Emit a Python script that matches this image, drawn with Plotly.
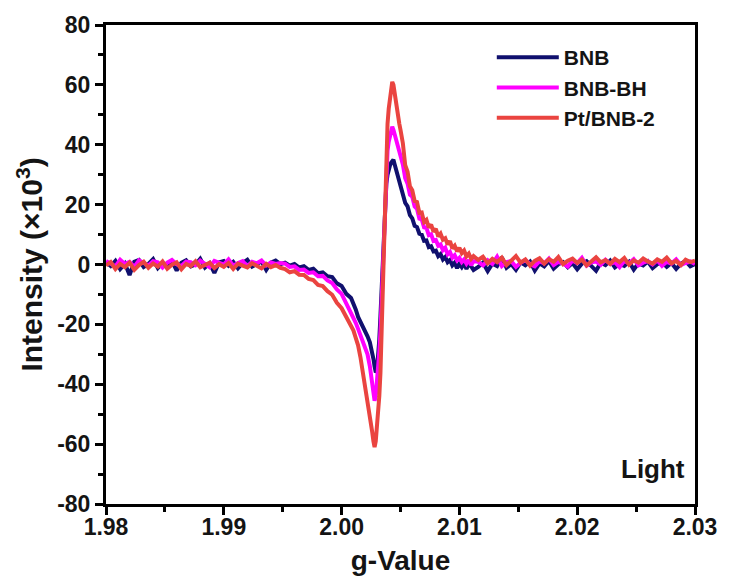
import plotly.graph_objects as go

# g-values (shared abscissa)
G = [1.9800, 1.9804, 1.9808, 1.9812, 1.9816, 1.9820, 1.9824, 1.9828, 1.9832, 1.9836,
     1.9840, 1.9844, 1.9848, 1.9852, 1.9856, 1.9860, 1.9864, 1.9868, 1.9872, 1.9876,
     1.9880, 1.9884, 1.9888, 1.9892, 1.9896, 1.9900, 1.9904, 1.9908, 1.9912, 1.9916,
     1.9920, 1.9924, 1.9928, 1.9932, 1.9936, 1.9940, 1.9944, 1.9948,
     1.9952, 1.9956, 1.9960, 1.9964, 1.9968, 1.9972, 1.9976, 1.9980, 1.9984, 1.9988,
     1.9992, 1.9996, 2.0000, 2.0004, 2.0008,
     2.0010, 2.0012, 2.0014, 2.0016, 2.0018, 2.0020, 2.0022, 2.0024,
     2.0025, 2.0026, 2.0027, 2.0028, 2.0029, 2.0030, 2.0031, 2.0032, 2.0033, 2.0034,
     2.0035, 2.0036, 2.0037, 2.0038, 2.0039, 2.0040, 2.0041, 2.0042, 2.0043, 2.0044,
     2.0045, 2.0046, 2.0047, 2.0048, 2.0049, 2.0050,
     2.0052, 2.0054, 2.0056, 2.0058, 2.0060, 2.0062, 2.0064, 2.0066, 2.0068, 2.0070,
     2.0072, 2.0074, 2.0076, 2.0078, 2.0080, 2.0082, 2.0084, 2.0086, 2.0088, 2.0090,
     2.0092, 2.0094, 2.0096, 2.0098, 2.0100, 2.0102, 2.0104, 2.0106, 2.0108, 2.0110, 2.0112,
     2.0116, 2.0120, 2.0124, 2.0128, 2.0132, 2.0136, 2.0140, 2.0144, 2.0148, 2.0152,
     2.0156, 2.0160, 2.0164, 2.0168, 2.0172, 2.0176, 2.0180, 2.0184, 2.0188, 2.0192,
     2.0196, 2.0200, 2.0204, 2.0208, 2.0212, 2.0216, 2.0220, 2.0224, 2.0228, 2.0232,
     2.0236, 2.0240, 2.0244, 2.0248, 2.0252, 2.0256, 2.0260, 2.0264, 2.0268, 2.0272,
     2.0276, 2.0280, 2.0284, 2.0288, 2.0292, 2.0296, 2.0300]

# Intensity (x10^3)
BNB = [0.8, -0.5, 1.2, -1.5, 0.3, -3.5, 0.9, 1.5, -0.8, 0.2, 1.8, -1.2, 0.5, -0.3, 1.1, -2.0, 0.6, 1.4, -0.6, 0.0,
       1.9, -1.0, 0.4, -2.8, 0.7, 1.2, -0.4, 0.9, -1.3, 0.5, 1.6, -0.7, 0.2, 1.0, -1.8, 0.6, 1.3, 0.1,
       0.6, -0.4, 0.2, -1.0, -0.6, -1.8, -1.4, -2.9, -2.6, -3.9, -4.2, -6.3, -7.2, -9.8, -11.2,
       -13, -15, -17.5, -19, -21, -22.5, -24, -26,
       -27.5, -29, -31.5, -34, -36, -35.5, -31, -25, -17, -7, 4, 14, 22, 27, 30, 32, 33, 34, 34.5, 35,
       33.5, 32, 30.5, 29, 28, 27,
       24.3, 20.6, 19.4, 16.5, 15.4, 12.9, 12.5, 10.3, 10.0, 7.9, 8.0, 5.8, 6.1, 4.4, 4.6, 2.8, 3.5, 1.7, 2.5, 0.8,
       1.5, -0.3, 0.6, -1.2, 0.2, -0.9, 0.4, -1.5, 0.1, -0.6, -1.8,
       -0.8, 0.6, -2.2, 0.3, -0.5, 2.4, -1.1, 0.2, -1.8, 0.7, -0.3, 1.0, -2.0, 0.4, -0.6, 1.2, -1.4, 0.1, 0.8, -0.9,
       0.5, -1.6, 0.3, 1.1, -0.7, -2.1, 0.6, -0.2, 1.3, -1.0, 0.2, -0.5, 0.9, -1.7, 0.4, -0.3, 1.0, -1.2, 0.1, 0.7,
       -0.8, 0.5, -1.5, 0.3, 1.1, -0.6, 0.2]

BNB_BH = [1.2, 0.4, -0.6, 1.6, 0.2, 0.9, -0.8, 1.4, 0.5, -0.3, 1.1, 0.7, -1.0, 0.6, 1.5, 0.1, -0.5, 1.0, 0.8, -0.2,
          1.3, 0.3, -0.9, 1.2, 0.6, 0.0, 1.7, -0.4, 0.5, 1.1, -0.6, 0.9, 0.4, 1.3, -0.3, 0.7, 0.2, 0.5,
          0.3, -0.8, -0.6, -1.8, -1.7, -2.8, -2.6, -3.9, -3.8, -5.3, -6.2, -8.3, -9.8, -13.0, -15.8,
          -18, -19.5, -21.5, -23.5, -25.5, -27.5, -30, -34,
          -37, -40, -43.5, -45.5, -44, -40, -35, -29, -22, -11, 1, 13, 24, 32, 38, 41, 43, 45, 46, 45,
          43.5, 42, 40.5, 39, 38, 36.5,
          33.4, 28.8, 27.0, 23.3, 22.6, 19.4, 18.6, 15.3, 15.1, 12.4, 12.2, 9.8, 10.1, 7.9, 8.2, 6.3, 6.7, 4.8, 5.6, 3.4,
          4.2, 2.3, 3.1, 1.4, 2.2, 0.8, 1.7, 0.3, 1.5, -0.2, 1.1,
          0.9, -0.3, 1.4, 0.2, 2.6, -0.5, 0.8, 1.2, -0.8, 0.6, 1.5, 0.1, -0.6, 1.1, 0.4, 2.0, -0.2, 0.9, 0.3, -0.7,
          1.3, 0.5, 2.2, -0.4, 0.7, 1.0, -0.1, 1.6, 0.2, 0.8, -0.9, 1.2, 0.4, 1.8, -0.3, 0.6, 1.1, 0.0, 1.4, -0.5,
          0.9, 0.3, 1.7, -0.2, 0.5, 1.0, 0.2]

PT_BNB_2 = [-0.3, 0.8, -1.5, 0.2, -0.9, 0.6, -1.8, -0.2, 0.9, -1.1, 0.3, -0.7, 1.0, -1.4, -0.1, 0.7, -1.6, 0.2, -0.5, 1.1,
            -0.9, -0.3, 0.6, -1.2, 0.1, -0.8, 0.5, -1.5, 0.3, -0.4, -1.0, 0.4, -0.6, -1.3, 0.2, -0.9, -0.2, -1.1,
            -1.5, -2.6, -2.2, -3.4, -3.5, -4.8, -5.2, -6.8, -7.2, -8.9, -10.1, -12.8, -14.6, -17.5, -20.3,
            -22, -24.5, -27, -31, -36, -40, -44, -50,
            -53, -56, -59, -61, -59, -55, -50, -44, -36, -22, -6, 12, 28, 39, 47, 52, 56, 59, 61, 60,
            57, 54, 52, 49, 47, 45,
            40.5, 33.2, 31.0, 26.1, 24.8, 21.2, 20.9, 17.3, 17.4, 14.2, 14.9, 12.4, 13.3, 11.0, 11.9, 9.4, 10.3, 8.3, 8.8, 6.7,
            7.8, 5.4, 6.3, 4.4, 5.6, 3.8, 4.7, 2.7, 3.6, 1.9, 2.8,
            1.5, 2.6, 0.4, 1.9, 0.8, 2.3, -0.2, 1.4, 2.8, 0.6, 1.7, -0.4, 1.2, 2.1, 0.3, 1.8, 0.9, 2.5, 0.1, 1.3,
            2.0, 0.5, 1.6, -0.3, 1.1, 2.4, 0.7, 1.5, 0.2, 1.9, 0.8, 2.2, -0.1, 1.4, 0.6, 2.0, 1.0, 0.3, 1.7, 0.9,
            2.3, 0.4, 1.2, -0.2, 1.6, 0.8, 1.3]

SERIES = [("BNB", BNB, "#10106E"), ("BNB-BH", BNB_BH, "#FF00FF"), ("Pt/BNB-2", PT_BNB_2, "#EA4440")]
X_TICKS = [1.98, 1.99, 2.00, 2.01, 2.02, 2.03]
X_LABELS = ["1.98", "1.99", "2.00", "2.01", "2.02", "2.03"]
Y_TICKS = [-80, -60, -40, -20, 0, 20, 40, 60, 80]
Y_LABELS = ["-80", "-60", "-40", "-20", "0", "20", "40", "60", "80"]

FONT = "Arial, 'Liberation Sans', sans-serif"
INK = "#141414"

fig = go.Figure()
for name, vals, color in SERIES:
    fig.add_trace(go.Scatter(x=G, y=vals, mode="lines", name=name,
                             line=dict(color=color, width=4)))

axis_common = dict(showline=True, linecolor="black", linewidth=3, mirror=True,
                   ticks="outside", tickwidth=3, tickcolor="black", ticklen=8,
                   showgrid=False, zeroline=False,
                   tickfont=dict(family=FONT, size=23, color=INK, weight="bold"),
                   minor=dict(ticks="outside", ticklen=5, tickwidth=3, tickcolor="black"))

fig.update_xaxes(range=[1.98, 2.03], tickvals=X_TICKS, ticktext=X_LABELS,
                 minor_dtick=0.005, minor_tick0=1.98, ticklabelstandoff=-8,
                 title=dict(text="g-Value", standoff=12,
                            font=dict(family=FONT, size=28, color=INK, weight="bold")),
                 **axis_common)
fig.update_yaxes(range=[-80, 80], tickvals=Y_TICKS, ticktext=Y_LABELS,
                 minor_dtick=10, minor_tick0=0,
                 title=dict(text="Intensity (×10<sup>3</sup>)", standoff=6,
                            font=dict(family=FONT, size=30, color=INK, weight="bold")),
                 **axis_common)

fig.add_annotation(x=0.986, y=0.073, xref="paper", yref="paper", text="Light",
                   showarrow=False, xanchor="right", yanchor="middle",
                   font=dict(family=FONT, size=26, color=INK, weight="bold"))

fig.update_layout(
    width=729, height=583,
    margin=dict(l=106, r=29, t=25, b=78),
    plot_bgcolor="white", paper_bgcolor="white",
    legend=dict(x=0.655, y=0.975, xanchor="left", yanchor="top",
                bgcolor="rgba(0,0,0,0)",
                font=dict(family=FONT, size=21, color=INK, weight="bold"),
                itemwidth=62),
)

fig.write_html("out.html")
